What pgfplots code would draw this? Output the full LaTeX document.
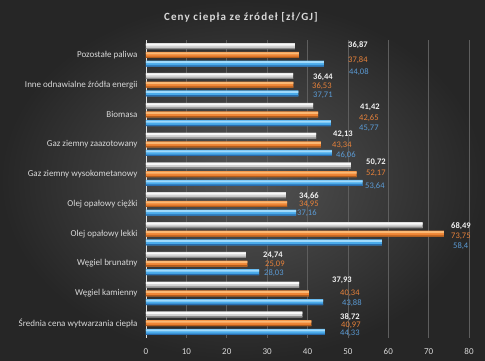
\documentclass[border=0pt]{standalone}
\usepackage{pgfplots}
\pgfplotsset{compat=1.18}
\usepackage{fontspec}
\setmainfont{Carlito}
\definecolor{bgin}{HTML}{545454}
\definecolor{bgout}{HTML}{262626}
\definecolor{wtop}{HTML}{F8F8F8}
\definecolor{wmid}{HTML}{D2D2D2}
\definecolor{wbot}{HTML}{8A8A8A}
\definecolor{otop}{HTML}{FAB874}
\definecolor{omid}{HTML}{EF8535}
\definecolor{obot}{HTML}{B25C1A}
\definecolor{btop}{HTML}{A0DAFB}
\definecolor{bmid}{HTML}{4AABEA}
\definecolor{bbot}{HTML}{286CAE}
\definecolor{lblw}{HTML}{F2F2F2}
\definecolor{lblo}{HTML}{E8823A}
\definecolor{lblb}{HTML}{5B9BD5}
\definecolor{gridc}{HTML}{5E5E5E}
\definecolor{txt}{HTML}{D9D9D9}
\pgfplotstableread{
y white orange blue
0 38.72 40.97 44.33
1 37.93 40.34 43.88
2 24.74 25.09 28.03
3 68.49 73.75 58.4
4 34.66 34.95 37.16
5 50.72 52.17 53.64
6 42.13 43.34 46.06
7 41.42 42.65 45.77
8 36.44 36.53 37.71
9 36.87 37.84 44.08
}\datatable
\begin{document}
\begin{tikzpicture}[x=1pt,y=1pt]
\shade[inner color=bgin, outer color=bgout] (0,0) rectangle (485,360);
\begin{axis}[
  at={(146pt,22pt)}, anchor=south west,
  scale only axis, width=323pt, height=298pt,
  xmin=0, xmax=80, ymin=-0.5, ymax=9.5,
  xbar, bar width=6pt,
  axis x line*=bottom, axis y line*=left,
  x axis line style={draw=none},
  y axis line style={draw=txt!80, line width=0.6pt},
  xtick={0,10,...,80},
  ytick={0,...,9},
  yticklabels={Średnia cena wytwarzania ciepła, Węgiel kamienny, Węgiel brunatny, Olej opałowy lekki, Olej opałowy ciężki, Gaz ziemny wysokometanowy, Gaz ziemny zaazotowany, Biomasa, Inne odnawialne źródła energii, Pozostałe paliwa},
  major tick length=0pt,
  xmajorgrids, major grid style={gridc, line width=0.5pt},
  tick label style={font=\fontsize{9}{10}\selectfont, text=txt},
  yticklabel style={xshift=-5pt},
  xticklabel style={yshift=-7pt},
  /pgf/number format/assume math mode=true,
]
% white series
\addplot[draw=none, fill=wmid, bar width=6pt, bar shift=8.7pt] table[x=white, y=y] {\datatable};
\addplot[draw=none, fill=wtop, bar width=2pt, bar shift=10.2pt] table[x=white, y=y] {\datatable};
\addplot[draw=none, fill=wbot, bar width=1.3pt, bar shift=6.35pt] table[x=white, y=y] {\datatable};
% orange series
\addplot[draw=none, fill=omid, bar width=6pt, bar shift=0pt] table[x=orange, y=y] {\datatable};
\addplot[draw=none, fill=otop, bar width=2pt, bar shift=1.5pt] table[x=orange, y=y] {\datatable};
\addplot[draw=none, fill=obot, bar width=1.3pt, bar shift=-2.35pt] table[x=orange, y=y] {\datatable};
% blue series
\addplot[draw=none, fill=bmid, bar width=6pt, bar shift=-8.7pt] table[x=blue, y=y] {\datatable};
\addplot[draw=none, fill=btop, bar width=2pt, bar shift=-7.2pt] table[x=blue, y=y] {\datatable};
\addplot[draw=none, fill=bbot, bar width=1.3pt, bar shift=-11.05pt] table[x=blue, y=y] {\datatable};
\end{axis}
\node[font=\bfseries\fontsize{11}{12}\selectfont\addfontfeature{LetterSpace=10}, text=txt] at (241,343) {Ceny ciepła ze źródeł [zł/GJ]};
\tikzset{lw/.style={anchor=west, inner sep=0pt, text=lblw, font=\bfseries\fontsize{8.5}{9}\selectfont},
         lo/.style={anchor=west, inner sep=0pt, text=lblo, font=\fontsize{8.5}{9}\selectfont},
         lb/.style={anchor=west, inner sep=0pt, text=lblb, font=\fontsize{8.5}{9}\selectfont}}
% Pozostale paliwa
\node[lw] at (348,315) {36,87};
\node[lo] at (348,300) {37,84};
\node[lb] at (349,288) {44,08};
% Inne
\node[lw] at (313,283) {36,44};
\node[lo] at (312,274) {36,53};
\node[lb] at (313,265) {37,71};
% Biomasa
\node[lw] at (360,253) {41,42};
\node[lo] at (359,242) {42,65};
\node[lb] at (359,232) {45,77};
% Gaz zaazotowany
\node[lw] at (333,226) {42,13};
\node[lo] at (332,215) {43,34};
\node[lb] at (336,205) {46,06};
% Gaz wysokometanowy
\node[lw] at (366,198) {50,72};
\node[lo] at (366,187) {52,17};
\node[lb] at (365,174) {53,64};
% Olej ciezki
\node[lw] at (299,164) {34,66};
\node[lo] at (299,156) {34,95};
\node[lb] at (297,147) {37,16};
% Olej lekki
\node[lw] at (451,134) {68,49};
\node[lo] at (451,124) {73,75};
\node[lb] at (453,114) {58,4};
% Wegiel brunatny
\node[lw] at (263,105) {24,74};
\node[lo] at (265,96) {25,09};
\node[lb] at (264,87) {28,03};
% Wegiel kamienny
\node[lw] at (332,80) {37,93};
\node[lo] at (340,67) {40,34};
\node[lb] at (342,57) {43,88};
% Srednia
\node[lw] at (340,43) {38,72};
\node[lo] at (341,35) {40,97};
\node[lb] at (340,27) {44,33};
\pgfresetboundingbox
\path (0,0) rectangle (485,360);
\end{tikzpicture}
\end{document}
